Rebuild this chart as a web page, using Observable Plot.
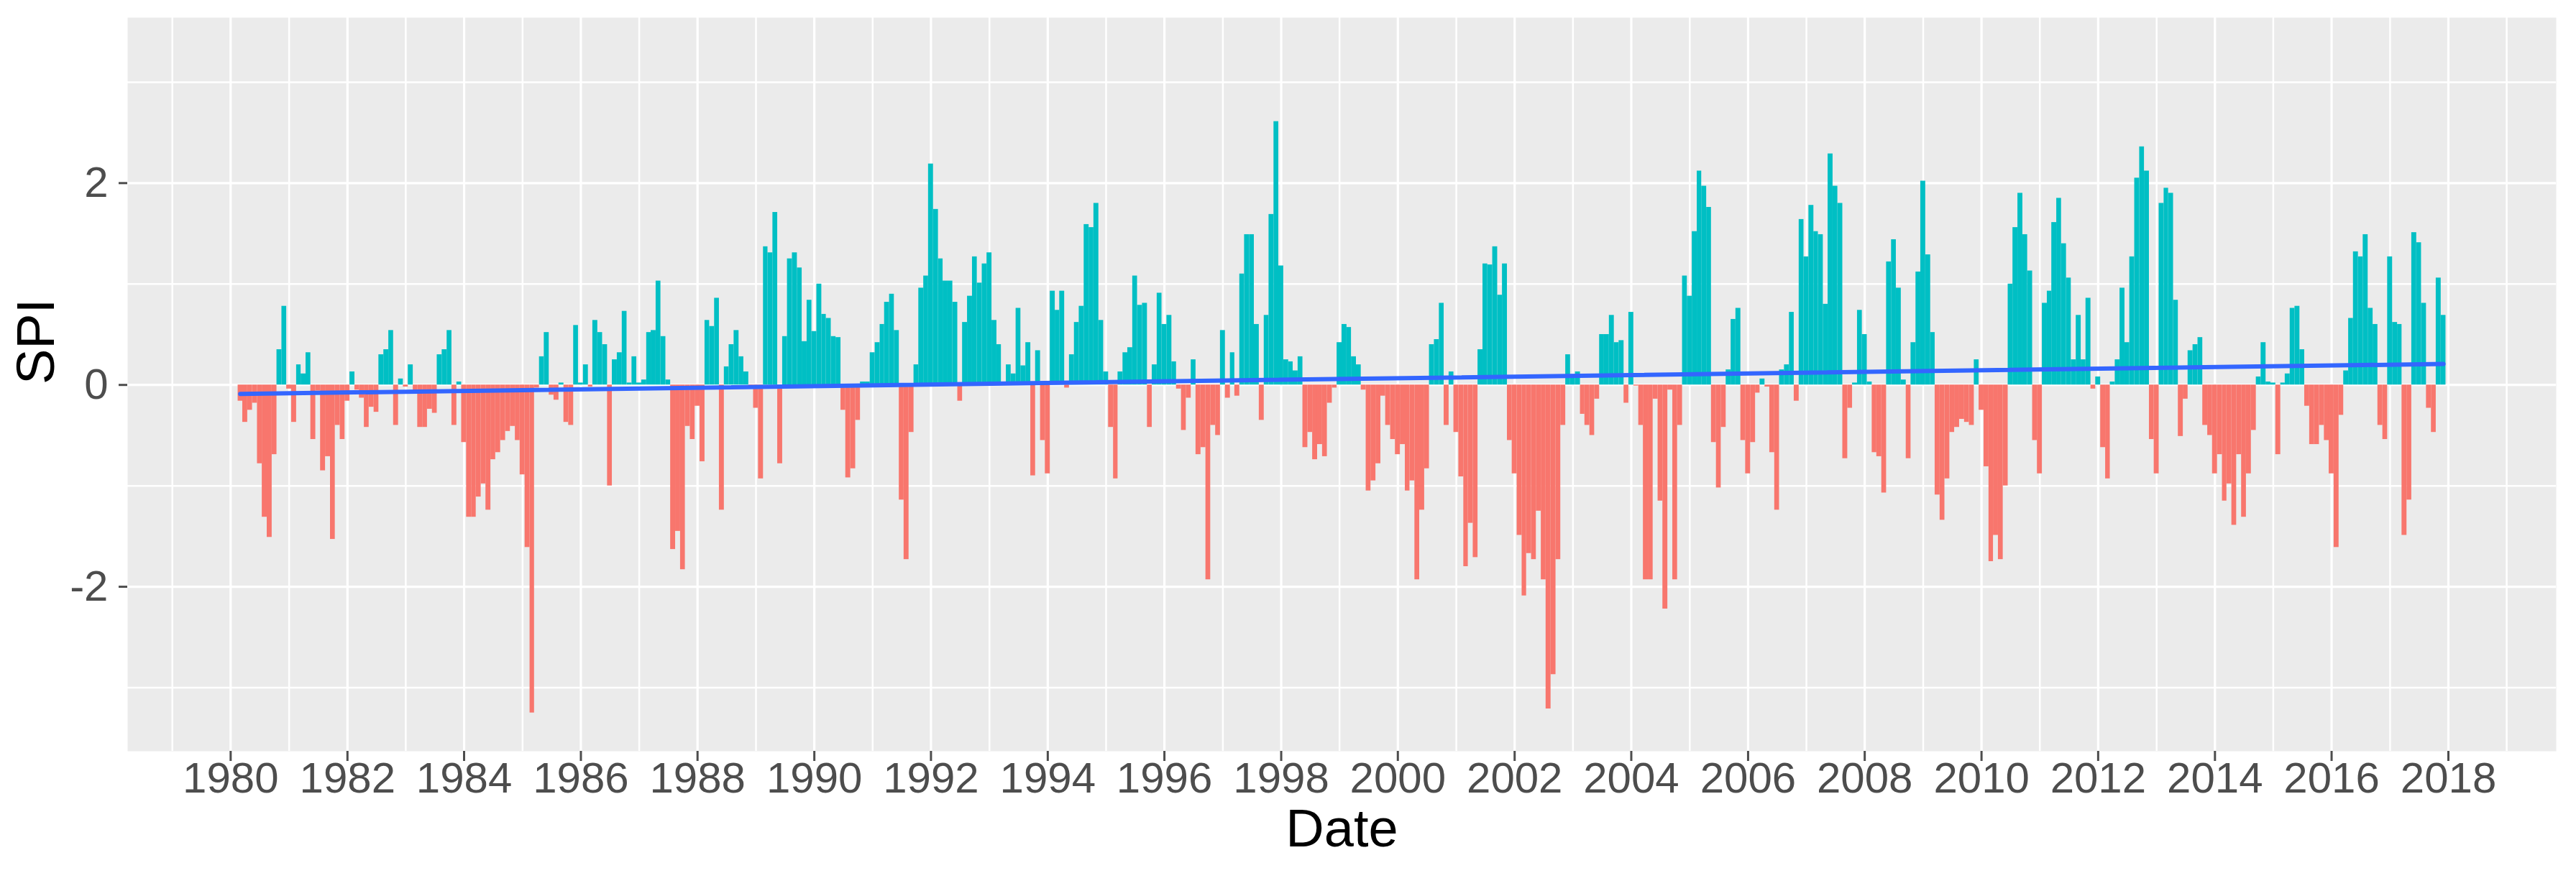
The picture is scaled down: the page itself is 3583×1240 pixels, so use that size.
<!DOCTYPE html>
<html>
<head>
<meta charset="utf-8">
<script src="https://cdn.jsdelivr.net/npm/d3@7"></script>
<script src="https://cdn.jsdelivr.net/npm/@observablehq/plot@0.6"></script>
<style>
  html, body { margin: 0; padding: 0; background: #ffffff; }
  #chart { width: 3583px; height: 1240px; }
</style>
</head>
<body>
<div id="chart"></div>
<script>
// Monthly SPI values (first value = March 1980)
const spi1980 = [-0.16, -0.37, -0.25, -0.18, -0.78, -1.31, -1.51, -0.69, 0.35, 0.78];
const spi1981 = [-0.04, -0.37, 0.20, 0.11, 0.32, -0.54, -0.06, -0.85, -0.71, -1.53, -0.40, -0.54];
const spi1982 = [-0.16, 0.13, -0.05, -0.13, -0.42, -0.22, -0.27, 0.30, 0.35, 0.54, -0.40, 0.06];
const spi1983 = [-0.02, 0.20, -0.08, -0.42, -0.42, -0.24, -0.28, 0.30, 0.35, 0.54, -0.40, 0.03];
const spi1984 = [-0.57, -1.31, -1.31, -1.11, -0.98, -1.24, -0.74, -0.67, -0.55, -0.46, -0.41, -0.55];
const spi1985 = [-0.89, -1.61, -3.25, -0.03, 0.28, 0.52, -0.10, -0.15, 0.02, -0.37, -0.40, 0.59];
const spi1986 = [0.02, 0.20, -0.02, 0.64, 0.52, 0.40, -1.00, 0.25, 0.32, 0.73, 0.02, 0.28];
const spi1987 = [0.02, 0.05, 0.52, 0.54, 1.03, 0.48, 0.05, -1.63, -1.45, -1.83, -0.41, -0.54];
const spi1988 = [-0.21, -0.76, 0.64, 0.58, 0.86, -1.24, 0.18, 0.40, 0.54, 0.28, 0.13, -0.03];
const spi1989 = [-0.23, -0.93, 1.37, 1.31, 1.71, -0.78, 0.48, 1.25, 1.31, 1.16, 0.43, 0.84];
const spi1990 = [0.53, 1.00, 0.70, 0.66, 0.48, 0.47, -0.25, -0.92, -0.83, -0.35, 0.03, 0.03];
const spi1991 = [0.32, 0.42, 0.60, 0.82, 0.90, 0.54, -1.14, -1.73, -0.47, 0.20, 0.96, 1.08];
const spi1992 = [2.19, 1.74, 1.25, 1.03, 1.03, 0.82, -0.16, 0.62, 0.88, 1.27, 1.01, 1.20];
const spi1993 = [1.31, 0.64, 0.40, 0.03, 0.20, 0.11, 0.76, 0.19, 0.42, -0.90, 0.34, -0.55];
const spi1994 = [-0.88, 0.93, 0.74, 0.93, -0.03, 0.30, 0.62, 0.78, 1.59, 1.56, 1.80, 0.64];
const spi1995 = [0.13, -0.42, -0.93, 0.13, 0.32, 0.37, 1.08, 0.79, 0.81, -0.42, 0.20, 0.91];
const spi1996 = [0.60, 0.69, 0.23, -0.04, -0.45, -0.13, 0.25, -0.69, -0.62, -1.93, -0.40, -0.50];
const spi1997 = [0.54, -0.13, 0.32, -0.11, 1.10, 1.49, 1.49, 0.60, -0.35, 0.69, 1.69, 2.61];
const spi1998 = [1.18, 0.25, 0.23, 0.14, 0.28, -0.62, -0.47, -0.74, -0.59, -0.71, -0.18, -0.03];
const spi1999 = [0.42, 0.60, 0.57, 0.28, 0.20, -0.05, -1.05, -0.95, -0.78, -0.11, -0.40, -0.54];
const spi2000 = [-0.69, -0.59, -1.05, -0.95, -1.93, -1.24, -0.83, 0.40, 0.45, 0.81, -0.40, 0.13];
const spi2001 = [-0.47, -0.91, -1.80, -1.37, -1.71, 0.35, 1.20, 1.19, 1.37, 0.89, 1.20, -0.55];
const spi2002 = [-0.88, -1.49, -2.09, -1.67, -1.73, -1.25, -1.93, -3.21, -2.87, -1.73, -0.40, 0.30];
const spi2003 = [0.07, 0.13, -0.29, -0.40, -0.50, -0.14, 0.50, 0.50, 0.69, 0.42, 0.44, -0.18];
const spi2004 = [0.72, -0.01, -0.40, -1.93, -1.93, -0.14, -1.15, -2.22, -0.05, -1.93, -0.40, 1.08];
const spi2005 = [0.88, 1.52, 2.12, 1.97, 1.76, -0.57, -1.02, -0.42, 0.15, 0.65, 0.76, -0.55];
const spi2006 = [-0.88, -0.57, -0.08, 0.06, -0.02, -0.67, -1.24, 0.15, 0.20, 0.72, -0.16, 1.64];
const spi2007 = [1.27, 1.78, 1.52, 1.49, 0.80, 2.29, 1.97, 1.80, -0.73, -0.23, 0.02, 0.74];
const spi2008 = [0.50, 0.03, -0.67, -0.71, -1.07, 1.22, 1.44, 0.96, 0.05, -0.73, 0.42, 1.12];
const spi2009 = [2.02, 1.29, 0.52, -1.09, -1.34, -0.93, -0.47, -0.42, -0.34, -0.37, -0.40, 0.25];
const spi2010 = [-0.25, -0.81, -1.75, -1.49, -1.73, -1.00, 1.00, 1.56, 1.90, 1.49, 1.13, -0.55];
const spi2011 = [-0.88, 0.81, 0.93, 1.61, 1.85, 1.40, 1.06, 0.25, 0.69, 0.25, 0.86, -0.04];
const spi2012 = [0.08, -0.62, -0.93, 0.03, 0.25, 0.96, 0.42, 1.27, 2.05, 2.36, 2.12, -0.54];
const spi2013 = [-0.88, 1.80, 1.95, 1.90, 0.84, -0.51, -0.14, 0.34, 0.40, 0.47, -0.40, -0.50];
const spi2014 = [-0.88, -0.69, -1.15, -0.98, -1.39, -0.69, -1.31, -0.88, -0.45, 0.08, 0.42, 0.03];
const spi2015 = [0.02, -0.69, 0.02, 0.11, 0.76, 0.78, 0.35, -0.21, -0.59, -0.59, -0.40, -0.55];
const spi2016 = [-0.88, -1.61, -0.30, 0.14, 0.66, 1.32, 1.27, 1.49, 0.76, 0.60, -0.40, -0.54];
const spi2017 = [1.27, 0.62, 0.60, -1.49, -1.14, 1.51, 1.41, 0.81, -0.23, -0.47, 1.06, 0.69];

const firstYear = 1980;
const firstMonth = 2; // 0-based: March
const yearSeries = [
  spi1980, spi1981, spi1982, spi1983, spi1984, spi1985, spi1986, spi1987, spi1988, spi1989,
  spi1990, spi1991, spi1992, spi1993, spi1994, spi1995, spi1996, spi1997, spi1998, spi1999,
  spi2000, spi2001, spi2002, spi2003, spi2004, spi2005, spi2006, spi2007, spi2008, spi2009,
  spi2010, spi2011, spi2012, spi2013, spi2014, spi2015, spi2016, spi2017
];

// Axis tick / grid values
const xTickYears = d3.range(1980, 2019, 2);
const xMinorYears = d3.range(1979, 2020, 2);
const yMajor = [-2, 0, 2];
const yMinor = [-3, -1, 1, 3];

// Build table
const data = [];
yearSeries.forEach((vals, i) => {
  const year = firstYear + i;
  const m0 = i === 0 ? firstMonth : 0;
  vals.forEach((v, j) => {
    const m = m0 + j;
    data.push({
      date: new Date(Date.UTC(year, m, 1)),
      x1: new Date(Date.UTC(year, m - 1, 16)),
      x2: new Date(Date.UTC(year, m, 16)),
      spi: v,
      sign: v >= 0 ? "pos" : "neg"
    });
  });
});

// ggplot-like 5% expansion of the x range
const lo = +data[0].x1, hi = +data[data.length - 1].x2;
const pad = (hi - lo) * 0.05;
const xDomain = [new Date(lo - pad), new Date(hi + pad)];

const toDate = y => new Date(Date.UTC(y, 0, 1));

const chart = Plot.plot({
  width: 3583,
  height: 1240,
  marginLeft: 177,
  marginRight: 28,
  marginTop: 24,
  marginBottom: 195,
  style: { fontFamily: "'Liberation Sans', Arial, sans-serif", background: "#ffffff" },
  x: { type: "utc", domain: xDomain },
  y: { domain: [-3.63, 3.64] },
  color: { domain: ["neg", "pos"], range: ["#F8766D", "#00BFC4"] },
  marks: [
    Plot.frame({ fill: "#EBEBEB", stroke: "none" }),
    Plot.ruleY(yMinor, { stroke: "#ffffff", strokeWidth: 2.5 }),
    Plot.ruleY(yMajor, { stroke: "#ffffff", strokeWidth: 3.2 }),
    Plot.ruleX(xMinorYears.map(toDate), { stroke: "#ffffff", strokeWidth: 2.5 }),
    Plot.ruleX(xTickYears.map(toDate), { stroke: "#ffffff", strokeWidth: 3.2 }),
    Plot.rectY(data, { x1: "x1", x2: "x2", y1: 0, y2: "spi", fill: "sign" }),
    Plot.linearRegressionY(data, { x: "date", y: "spi", stroke: "#3366FF", strokeWidth: 6, ci: 0 }),
    Plot.axisX(xTickYears.map(toDate), {
      tickSize: 14, tickPadding: 1, tickFormat: "%Y", fontSize: 60,
      color: "#4D4D4D", strokeWidth: 3, label: null
    }),
    Plot.axisY(yMajor, {
      tickSize: 12, tickPadding: 15, fontSize: 60, tickFormat: d => String(d),
      color: "#4D4D4D", strokeWidth: 3, label: null
    }),
    Plot.text(["Date"], { frameAnchor: "bottom", dy: 132, fontSize: 74, fill: "#000000" }),
    Plot.text(["SPI"], { frameAnchor: "left", dx: -126, rotate: -90, fontSize: 74, fill: "#000000" })
  ]
});

document.getElementById("chart").appendChild(chart);
</script>
</body>
</html>
